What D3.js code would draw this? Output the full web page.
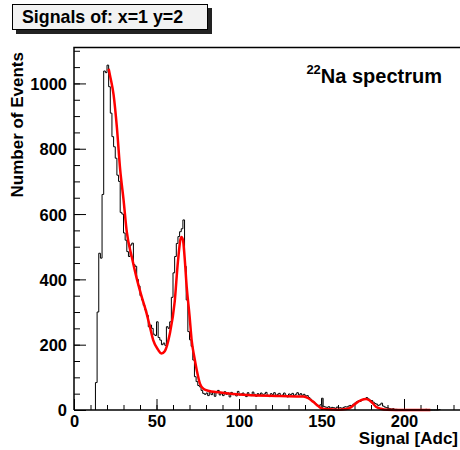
<!DOCTYPE html>
<html lang='en'>
<head>
<meta charset="utf-8">
<style>
body {
  margin: 0;
  background: #fff;
}
text {
  font-family: "Liberation Sans", Arial, Helvetica, sans-serif;
  font-weight: bold;
  fill: #000;
}
.axis line {
  stroke: #000;
  stroke-width: 1px;
}
.axis path {
  display: none;
}
.axis text {
  font-size: 16.5px;
}
path.hist {
  fill: none;
  stroke: #000;
  stroke-width: 1px;
}
path.fit {
  fill: none;
  stroke: #f00;
  stroke-width: 2.5px;
}
</style>
</head>
<body>
<svg width="460" height="450"></svg>
<script src="https://cdn.jsdelivr.net/npm/d3@7"></script>
<script>
  // histogram: one count per 1-ADC bin, starting at firstBin
  var firstBin = 13;
  var counts = [
    84, 300, 480, 465, 660, 1038, 1033, 1056, 990, 909,          // 13-22
    837, 806, 771, 719, 700, 605, 600, 542, 520, 485,             // 23-32
    470, 505, 511, 445, 440, 400, 380, 350, 337, 320,             // 33-42
    306, 290, 255, 260, 250, 232, 228, 270, 222, 214,             // 43-52
    200, 205, 198, 255, 250, 270, 345, 420, 470, 510,             // 53-62
    531, 546, 555, 582, 440, 337, 240, 215, 195, 153,             // 63-72
    102, 87, 75, 71, 60, 51, 48, 52, 44, 58,                      // 73-82
    47, 55, 42, 53, 60, 46, 51, 44, 56, 48,                       // 83-92
    52, 40, 54, 47, 50, 43, 57, 46, 49, 52,                       // 93-102
    45, 41, 53, 47, 44, 55, 48, 42, 50, 46,                       // 103-112
    52, 44, 49, 54, 45, 41, 50, 47, 53, 44,                       // 113-122
    48, 51, 43, 46, 52, 45, 40, 49, 47, 51,                       // 123-132
    44, 48, 53, 46, 50, 45, 48, 43, 44, 38,                       // 133-142
    33, 28, 24, 19, 15, 12, 16, 36, 11, 9,                        // 143-152
    8, 10, 6, 8, 7, 5, 9, 6, 7, 5,                                // 153-162
    8, 10, 9, 12, 14, 13, 18, 21, 25, 28,                         // 163-172
    26, 31, 33, 35, 38, 34, 30, 29, 24, 20,                       // 173-182
    18, 14, 16, 21, 12, 9, 7, 6, 4, 3,                            // 183-192
    4, 2, 2, 1, 1, 0, 0, 0, 0, 0,                                 // 193-202
    0, 0, 1, 0, 0, 0, 0, 0, 0, 0,                                 // 203-212
    2, 0, 0, 0, 0, 0, 0, 0, 1                                     // 213-221
  ];

  // fit curve
  var fitX = [21, 22, 24, 26, 28, 30, 32, 35, 38, 41, 44, 46, 48, 51, 53, 55, 58, 61, 63, 65, 66, 67,
              68.3, 70, 71.3, 73, 74.4, 76.4, 78.4, 82, 86, 95, 105, 125, 139, 142, 145, 148, 150,
              155, 160, 165, 168, 171, 174, 177, 179, 181, 183, 186, 190, 200, 216];
  var fitY = [1045, 1020, 965, 865, 735, 645, 545, 469, 403, 347, 296, 255, 214, 184, 173, 180, 232, 330, 455, 530, 522, 470,
              377, 290, 214, 160, 122, 80, 65, 58, 55, 50, 46, 43, 41, 36, 25, 12, 5,
              2, 1, 3, 9, 21, 30, 34, 30, 21, 10, 4, 1, 0, 0];

  var xTicks = [0, 50, 100, 150, 200];
  var yTicks = [0, 200, 400, 600, 800, 1000];

  var svg = d3.select("svg");

  var x = d3.scaleLinear().domain([0, 250]).range([74, 486.5]),
      y = d3.scaleLinear().domain([0, 1110]).range([410, 47.5]);

  // axes (ticks point into the frame)
  svg.append("g")
      .attr("class", "axis")
      .attr("transform", "translate(74,0)")
      .call(d3.axisLeft(y).tickValues(d3.range(0, 1101, 50)).tickSize(-6).tickFormat(""));
  svg.append("g")
      .attr("class", "axis")
      .attr("transform", "translate(74,0)")
      .call(d3.axisLeft(y).tickValues(yTicks).tickSize(-12).tickPadding(7).tickFormat(d3.format("d")))
    .selectAll("text")
      .attr("dy", "0.36em");

  svg.append("g")
      .attr("class", "axis")
      .attr("transform", "translate(0,410)")
      .call(d3.axisBottom(x).tickValues(d3.range(0, 251, 10)).tickSize(-5).tickFormat(""));
  svg.append("g")
      .attr("class", "axis")
      .attr("transform", "translate(0,410)")
      .call(d3.axisBottom(x).tickValues(xTicks).tickSize(-11).tickFormat(d3.format("d")))
    .selectAll("text")
      .attr("y", 17)
      .attr("dy", null);

  // histogram outline
  var pts = [[x(firstBin), y(0)]];
  counts.forEach(function(c, i) {
    var lo = firstBin + i;
    pts.push([x(lo), y(c)], [x(lo + 1), y(c)]);
  });
  pts.push([x(firstBin + counts.length), y(0)]);
  svg.append("path")
      .attr("class", "hist")
      .attr("d", d3.line()(pts));

  // fit
  svg.append("path")
      .attr("class", "fit")
      .attr("d", d3.line()
        .x(function(d) { return x(d); })
        .y(function(d, i) { return y(fitY[i]); })
        .curve(d3.curveMonotoneX)(fitX));

  // frame
  svg.append("path")
      .attr("d", "M74,410V47.5H486.5")
      .attr("fill", "none")
      .attr("stroke", "#000")
      .attr("stroke-width", 1.5);
  svg.append("line")
      .attr("x1", 74).attr("x2", 486.5)
      .attr("y1", 410).attr("y2", 410)
      .attr("stroke", "#000")
      .attr("stroke-width", 1.5);

  // axis titles
  svg.append("text")
      .attr("transform", "translate(23,52) rotate(-90)")
      .attr("text-anchor", "end")
      .style("font-size", "17px")
      .text("Number of Events");
  svg.append("text")
      .attr("x", 458)
      .attr("y", 444)
      .attr("text-anchor", "end")
      .style("font-size", "17px")
      .text("Signal [Adc]");

  // label
  var lab = svg.append("text")
      .attr("x", 442)
      .attr("y", 82.7)
      .attr("text-anchor", "end")
      .style("font-size", "20px");
  lab.append("tspan").attr("dy", -9).style("font-size", "13px").text("22");
  lab.append("tspan").attr("dy", 9).text("Na spectrum");

  // title box
  svg.append("rect")
      .attr("x", 16).attr("y", 8)
      .attr("width", 196).attr("height", 26)
      .attr("fill", "#222");
  svg.append("rect")
      .attr("x", 12.5).attr("y", 4.5)
      .attr("width", 195).attr("height", 25)
      .attr("fill", "#f2f2f2")
      .attr("stroke", "#000")
      .attr("stroke-width", 1);
  svg.append("text")
      .attr("x", 22)
      .attr("y", 22.7)
      .style("font-size", "17.8px")
      .text("Signals of: x=1 y=2");
</script>
</body>
</html>
